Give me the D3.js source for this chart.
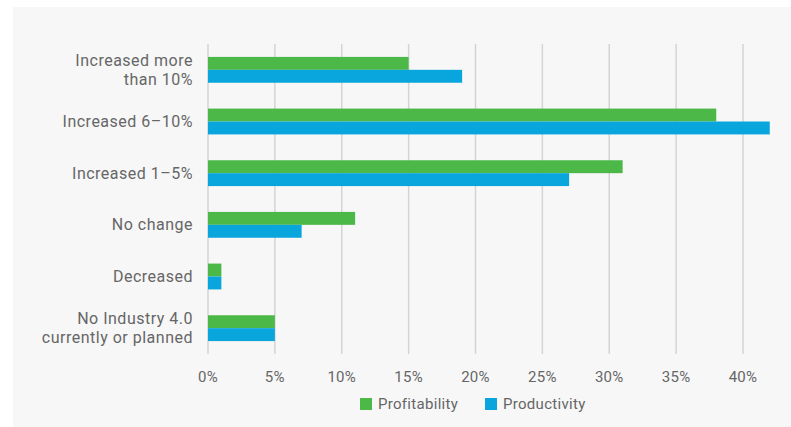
<!DOCTYPE html>
<html>
<head>
<meta charset="utf-8">
<script src="https://cdn.jsdelivr.net/npm/d3@7"></script>
<style>
  body { margin: 0; background: #fff; }
  text { font-family: Roboto, sans-serif; fill: #666; }
</style>
</head>
<body>
<div id="chart"></div>
<script>
var categories = [
    ["Increased more", "than 10%"],
    ["Increased 6\u201310%"],
    ["Increased 1\u20135%"],
    ["No change"],
    ["Decreased"],
    ["No Industry 4.0", "currently or planned"]
];
var seriesNames = ["Profitability", "Productivity"];
var profitability = [15, 38, 31, 11, 1, 5];
var productivity = [19, 42, 27, 7, 1, 5];
var xTicks = [0, 5, 10, 15, 20, 25, 30, 35, 40];
var colors = ["#4cb848", "#09a6dd"];

var W = 791, H = 427;
var margin = {left: 208, top: 44, right: 20, bottom: 73},
    width = 743 - margin.left,
    height = H - margin.top - margin.bottom;

var svg = d3.select("#chart").append("svg")
    .attr("width", W).attr("height", H);

// light panel
svg.append("rect").attr("x", 13).attr("y", 7)
    .attr("width", W - 13).attr("height", H - 7)
    .attr("fill", "#f7f7f7");

var g = svg.append("g")
    .attr("transform", "translate(" + margin.left + "," + margin.top + ")");

var x = d3.scaleLinear().domain([0, 40]).range([0, width]);
var y = d3.scaleBand().domain(d3.range(categories.length)).range([0, height]).paddingInner(0.5).paddingOuter(0.25);
var ySub = d3.scaleBand().domain(d3.range(seriesNames.length)).range([0, y.bandwidth()]);

// gridlines
g.selectAll(".grid").data(xTicks)
    .enter().append("line")
    .attr("x1", function(d) { return x(d); })
    .attr("x2", function(d) { return x(d); })
    .attr("y1", 0).attr("y2", height)
    .attr("stroke", "#d4d4d4")
    .attr("stroke-width", 1.5);

// tick labels
g.selectAll(".tick").data(xTicks)
    .enter().append("text")
    .attr("x", function(d) { return x(d); })
    .attr("y", height + 28)
    .attr("text-anchor", "middle")
    .style("font-size", "15px")
    .style("letter-spacing", "0.3px")
    .text(function(d) { return d + "%"; });

var data = categories.map(function(c, i) { return [profitability[i], productivity[i]]; });

var rows = g.selectAll(".row").data(data)
    .enter().append("g")
    .attr("transform", function(d, i) { return "translate(0," + y(i) + ")"; });

rows.selectAll("rect").data(function(d) { return d; })
    .enter().append("rect")
    .attr("x", 0)
    .attr("y", function(d, j) { return ySub(j); })
    .attr("width", function(d) { return x(d); })
    .attr("height", ySub.bandwidth())
    .attr("fill", function(d, j) { return colors[j]; });

// category labels, one text per line
categories.forEach(function(lines, i) {
    var cy = y(i) + y.bandwidth() / 2;
    var lh = 19;
    var start = cy - (lines.length - 1) * lh / 2;
    lines.forEach(function(l, k) {
        g.append("text")
            .attr("x", -15)
            .attr("y", start + k * lh)
            .attr("dy", "0.35em")
            .attr("text-anchor", "end")
            .style("font-size", "16px")
            .style("letter-spacing", "0.5px")
            .text(l);
    });
});

// legend
var legendX = [360, 485];
var legend = svg.selectAll(".legend").data(seriesNames)
    .enter().append("g")
    .attr("transform", function(d, i) { return "translate(" + legendX[i] + ",398)"; });
legend.append("rect").attr("width", 12).attr("height", 12)
    .attr("fill", function(d, i) { return colors[i]; });
legend.append("text").attr("x", 18).attr("y", 6).attr("dy", "0.35em")
    .style("font-size", "15px")
    .style("letter-spacing", "0.3px")
    .text(function(d) { return d; });
</script>
</body>
</html>
